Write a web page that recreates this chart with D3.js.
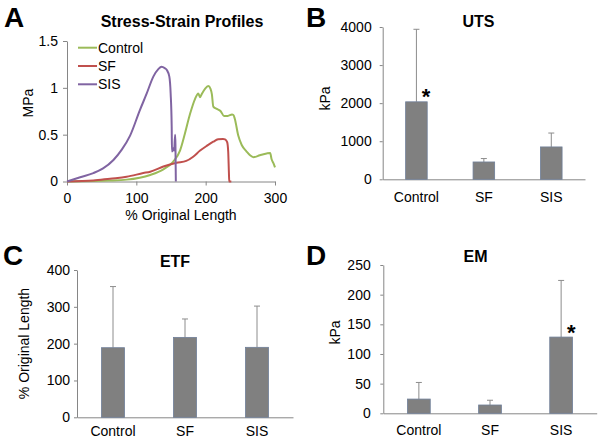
<!DOCTYPE html>
<html><head><meta charset="utf-8">
<script src="https://cdn.jsdelivr.net/npm/d3@7"></script>
<style>
html,body{margin:0;padding:0;background:#fff;}
svg{display:block;font-family:"Liberation Sans",Arial,sans-serif;}
</style></head>
<body>
<svg id="c" width="601" height="443"></svg>
<script>
// ---------- DATA ----------
const strainTicks = [0, 100, 200, 300];
const stressTicks = [0, 0.5, 1, 1.5];
const seriesNames = ["Control", "SF", "SIS"];
const curveControl = [[0,0],[38,0.005],[60,0.01],[86,0.02],[120,0.07],[139,0.13],[153,0.21],[163,0.33],[170,0.51],[177.4,0.72],[184.6,0.88],[189.4,0.94],[191.8,0.9],[194,0.93],[199,0.99],[203.8,1.02],[207,0.99],[209,0.93],[211,0.8],[216,0.775],[221.7,0.75],[226.4,0.7],[232,0.7],[238,0.715],[240,0.71],[242,0.67],[247,0.49],[252,0.39],[259,0.32],[264,0.28],[269,0.26],[278,0.28],[288,0.3],[293,0.305],[295,0.24],[298,0.19],[300,0.15]];
const curveSF = [[0,0],[38,0.01],[62,0.03],[86,0.05],[110,0.09],[120,0.105],[139,0.16],[158,0.2],[172,0.22],[182,0.265],[192,0.33],[201.5,0.38],[211,0.425],[218,0.45],[225,0.455],[228,0.45],[231,0.42],[232.5,0.32],[233.5,0.1],[234,0],[237,0]];
const curveSIS = [[0,0],[19,0.045],[38,0.09],[52,0.14],[67,0.23],[79,0.34],[91,0.49],[105,0.76],[115,0.94],[124.5,1.12],[131.7,1.2],[136.5,1.225],[141,1.21],[144,1.19],[147.6,1.12],[149.5,0.94],[151,0.585],[151.4,0.32],[153.3,0.355],[154.5,0.33],[156,0.5],[156.4,0.4],[157,0]];

const groups = ["Control", "SF", "SIS"];
const utsMean = [2035, 455, 850];
const utsErr  = [3940, 545, 1215];
const utsTicks = [0, 1000, 2000, 3000, 4000];
const utsSig = ["Control"];
const etfMean = [189, 217, 190];
const etfErr  = [355, 267, 302];
const etfTicks = [0, 100, 200, 300, 400];
const etfSig = [];
const emMean = [24, 14, 128.5];
const emErr  = [52, 22, 224];
const emTicks = [0, 50, 100, 150, 200, 250];
const emSig = ["SIS"];

// ---------- STYLE ----------
const colors = {Control:"#9bbb59", SF:"#c0504d", SIS:"#8064a2"};
const axisColor = "#868686";
const FONT = '"Liberation Sans",Arial,sans-serif';

const svg = d3.select("#c");

function styleAxis(g){
  g.selectAll(".domain").attr("stroke", axisColor);
  g.selectAll(".tick line").attr("stroke", axisColor);
  g.selectAll(".tick text").attr("fill","#000").style("font-family",FONT);
}

// ---------- PANEL A ----------
(function(){
  const x = d3.scaleLinear().domain([0,300]).range([67,275]);
  const y = d3.scaleLinear().domain([0,1.5]).range([181.5,41]);
  const gx = svg.append("g").attr("transform",`translate(0,${y(0)})`)
    .call(d3.axisBottom(x).tickValues(strainTicks).tickSize(4).tickSizeOuter(0).tickPadding(7.5).tickFormat(d3.format("d")))
    .attr("font-size",14);
  styleAxis(gx);
  const gy = svg.append("g").attr("transform",`translate(${x(0)},0)`)
    .call(d3.axisLeft(y).tickValues(stressTicks).tickSize(4).tickSizeOuter(0).tickPadding(5).tickFormat(d3.format("~g")))
    .attr("font-size",14);
  styleAxis(gy);

  const line = d3.line().x(d=>x(d[0])).y(d=>y(d[1])).curve(d3.curveMonotoneX);
  const curves = {Control:curveControl, SF:curveSF, SIS:curveSIS};
  ["Control","SF","SIS"].forEach(k=>{
    svg.append("path").attr("d",line(curves[k])).attr("fill","none")
      .attr("stroke",colors[k]).attr("stroke-width",2).attr("stroke-linejoin","round");
  });

  // legend
  const ly = d3.scalePoint().domain(seriesNames).range([47.7,84.3]);
  seriesNames.forEach(k=>{
    svg.append("line").attr("x1",78).attr("x2",97).attr("y1",ly(k)).attr("y2",ly(k))
      .attr("stroke",colors[k]).attr("stroke-width",2);
    svg.append("text").attr("x",98).attr("y",ly(k)).attr("dy","0.36em")
      .attr("font-size",14).attr("fill","#000").text(k);
  });

  svg.append("text").attr("x",182).attr("y",26.7).attr("text-anchor","middle")
    .attr("font-size",16).attr("font-weight","bold").text("Stress-Strain Profiles");
  svg.append("text").attr("transform","translate(33,103) rotate(-90)").attr("text-anchor","middle")
    .attr("font-size",14).text("MPa");
  svg.append("text").attr("x",181).attr("y",220).attr("text-anchor","middle")
    .attr("font-size",14).text("% Original Length");
  svg.append("text").attr("x",4).attr("y",27).attr("font-size",28).attr("font-weight","bold").text("A");
})();

// ---------- BAR PANELS ----------
function barPanel(o){
  const x = d3.scaleBand().domain(groups).range(o.xr).paddingInner(0.68).paddingOuter(0.34);
  const y = d3.scaleLinear().domain(o.domain).range(o.yr);
  const gy = svg.append("g").attr("transform",`translate(${o.xr[0]},0)`)
    .call(d3.axisLeft(y).tickValues(o.ticks).tickSize(3).tickSizeOuter(0).tickPadding(o.ypad).tickFormat(d3.format("d")))
    .attr("font-size",14);
  styleAxis(gy);
  const gx = svg.append("g").attr("transform",`translate(0,${o.yr[0]})`)
    .call(d3.axisBottom(x).tickSize(0).tickSizeOuter(0).tickPadding(o.xpad))
    .attr("font-size",14);
  styleAxis(gx);

  groups.forEach((g,i)=>{
    const cx = x(g) + x.bandwidth()/2;
    // error bar
    svg.append("line").attr("x1",cx).attr("x2",cx).attr("y1",y(o.mean[i])).attr("y2",y(o.err[i]))
      .attr("stroke","#8c8c8c").attr("stroke-width",1);
    svg.append("line").attr("x1",cx-3).attr("x2",cx+3).attr("y1",y(o.err[i])).attr("y2",y(o.err[i]))
      .attr("stroke","#8c8c8c").attr("stroke-width",1);
    svg.append("rect").attr("x",x(g)).attr("y",y(o.mean[i])).attr("width",x.bandwidth())
      .attr("height",y(0)-y(o.mean[i])).attr("fill","#808080")
      .attr("stroke","#6f7f99").attr("stroke-width",0.8);
    if(o.sig.includes(g)){
      svg.append("text").attr("x",cx+x.bandwidth()*0.45).attr("y",y(o.mean[i])-10+12.5)
        .attr("text-anchor","middle").attr("font-size",22).attr("font-weight","bold").text("*");
    }
  });
  svg.append("text").attr("x",o.title[1]).attr("y",o.title[2]).attr("text-anchor","middle")
    .attr("font-size",16).attr("font-weight","bold").text(o.title[0]);
  svg.append("text").attr("transform",`translate(${o.ylab[1]},${o.ylab[2]}) rotate(-90)`).attr("text-anchor","middle")
    .attr("font-size",14).text(o.ylab[0]);
  svg.append("text").attr("x",o.letter[1]).attr("y",o.letter[2]).attr("font-size",28).attr("font-weight","bold").text(o.letter[0]);
}

barPanel({xr:[382.7,585], yr:[179.3,27], domain:[0,4000], ticks:utsTicks, mean:utsMean, err:utsErr, sig:utsSig,
  ypad:8, xpad:12.5, title:["UTS",478.5,26.5], ylab:["kPa",330,98.5], letter:["B",306,27]});
barPanel({xr:[77,293], yr:[417.3,270], domain:[0,400], ticks:etfTicks, mean:etfMean, err:etfErr, sig:etfSig,
  ypad:4, xpad:8.6, title:["ETF",175,266.5], ylab:["% Original Length",29,343.5], letter:["C",3,265]});
barPanel({xr:[383.3,596.7], yr:[413.3,265], domain:[0,250], ticks:emTicks, mean:emMean, err:emErr, sig:emSig,
  ypad:9.6, xpad:11.8, title:["EM",475.5,261.7], ylab:["kPa",340,332.5], letter:["D",306,265]});
</script>
</body></html>
